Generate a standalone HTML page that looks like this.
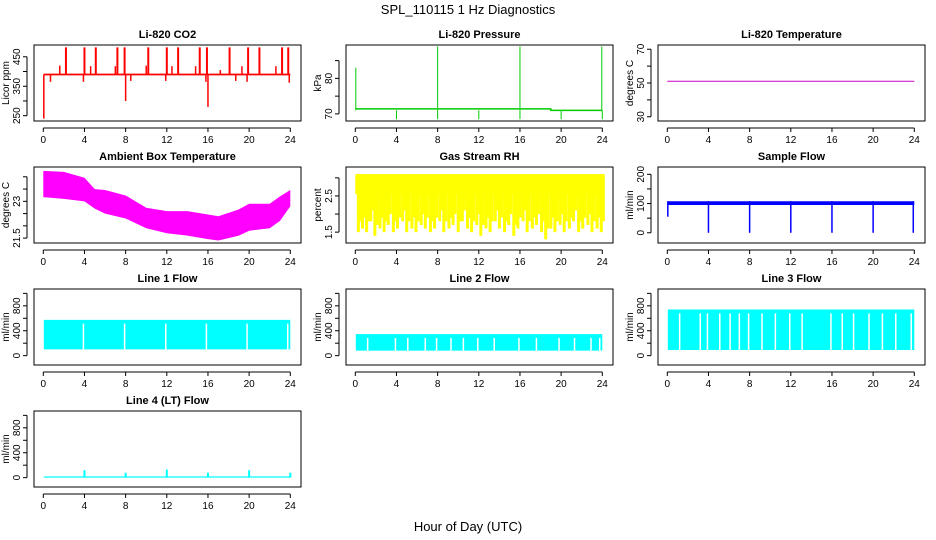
<!DOCTYPE html>
<html><head><meta charset="utf-8"><style>
html,body{margin:0;padding:0;background:#fff;}
svg{display:block;font-family:"Liberation Sans",sans-serif;}
</style></head><body>
<svg id="chart" width="936" height="540" viewBox="0 0 936 540">
<text x="468" y="14" text-anchor="middle" font-size="13">SPL_110115  1 Hz Diagnostics</text>
<text x="468" y="531" text-anchor="middle" font-size="13">Hour of Day (UTC)</text>
</svg>
<script>
// ---- data ----
const xTicks = [0,4,8,12,16,20,24];
const co2Base = 390;
const co2UpHours = [2.2,4.0,5.1,7.2,7.9,10.2,12.0,13.1,15.2,15.9,18.1,19.9,21.0,23.2,23.8];
const co2UpValues = [482,482,482,482,482,482,482,482,482,482,482,482,482,482,482];
const co2DownHours = [0.05,8.0,16.0,0.7,3.9,8.5,11.9,15.8,18.7,19.8,23.9];
const co2DownValues = [240,300,280,365,365,368,368,365,368,365,362];
const co2BumpHours = [1.6,4.6,7.0,10.0,12.5,14.8,17.2,19.3,22.6];
const co2BumpValues = [420,418,418,420,418,418,405,418,418];
const presHours = [0,19,19,24];
const presValues = [71.4,71.4,71.0,71.0];
const presUpHours = [0.05,8,16,23.95];
const presUpValues = [83,89,89,89];
const presDownHours = [4,8,12,16,20,24];
const presDownValues = [68.5,68.5,68.5,68.5,68.5,68.5];
const tempHours = [0,24];
const tempValues = [51,51];
const ambHours = [0,2,4,5,6,8,10,12,14,16,17,18,19,20,22,23,24];
const ambHigh = [24.24,24.2,23.96,23.5,23.46,23.24,22.74,22.6,22.6,22.46,22.39,22.53,22.67,22.9,22.9,23.2,23.46];
const ambLow = [23.17,23.1,23.0,22.7,22.5,22.3,21.9,21.7,21.6,21.46,21.4,21.5,21.6,21.8,21.9,22.2,22.8];
const rhHigh = 3.1;
const rhBandLow = 2.55;
const rhDipHours = [0.3,0.7,1.1,1.5,1.9,2.4,2.8,3.2,3.7,4.1,4.6,5.0,5.5,5.9,6.4,6.8,7.3,7.7,8.2,8.6,9.1,9.5,10.0,10.4,10.9,11.3,11.8,12.2,12.7,13.1,13.6,14.0,14.5,14.9,15.4,15.8,16.3,16.7,17.2,17.6,18.1,18.5,19.0,19.4,19.9,20.3,20.8,21.2,21.7,22.1,22.6,23.0,23.5,23.9];
const rhDipValues = [1.5,1.6,1.5,1.8,1.4,1.6,1.5,1.7,1.5,1.6,1.8,1.5,1.6,1.5,1.7,1.6,1.5,1.6,1.8,1.5,1.6,1.7,1.5,1.8,1.6,1.5,1.7,1.4,1.6,1.5,1.8,1.6,1.5,1.7,1.4,1.6,1.8,1.5,1.6,1.7,1.5,1.3,1.6,1.5,1.7,1.5,1.6,1.8,1.5,1.6,1.7,1.5,1.6,1.5];
const sfHigh = 108, sfLow = 95;
const sfDipHours = [0.05,4,8,12,16,20,23.9];
const sfDipValues = [55,0,0,0,0,0,0];
const l1Range = [100,575];
const l1Gaps = [3.9,7.9,11.9,15.85,19.8,23.75];
const l2Range = [80,345];
const l2Gaps = [1.2,3.9,5.1,6.8,7.9,9.3,10.5,11.9,13.5,15.9,17.6,19.8,21.3,22.9,23.75];
const l3Range = [90,740];
const l3Gaps = [1.2,3.2,3.9,5.1,6.1,7.0,7.9,9.2,10.5,11.9,13.1,15.9,17.0,18.1,19.6,20.9,22.2,23.7];
const l4Range = [0,20];
const l4SpikeHours = [4,8,12,16,20,24];
const l4SpikeValues = [120,80,130,80,120,80];

// ---- layout ----
const svg = document.getElementById('chart');
const NS = 'http://www.w3.org/2000/svg';
const colL = [34,346,658], rowT = [45,167,289,411], W = 267, H = 76;
function el(tag, attrs, parent){const e=document.createElementNS(NS,tag);for(const k in attrs)e.setAttribute(k,attrs[k]);(parent||svg).appendChild(e);return e;}

function panel(col,row,title,ylab,ymin,ymax,ticks,labels,name){
  const L=colL[col],T=rowT[row];
  const g=el('g',{});
  
  
  const xs=h=>L+9.3+h*(247/24);
  const ys=v=>T+H-(v-ymin)/(ymax-ymin)*H;
  const t=el('text',{x:L+W/2,y:T-7,'text-anchor':'middle','font-size':11,'font-weight':'bold'},g);t.textContent=title;
  
  
  const data=el('g',{},g);
  
  
  const box=el('rect',{x:L,y:T,width:W,height:H,fill:'none',stroke:'#000','stroke-width':1},g);
  
  
  const ax=el('g',{},g);
  
  
  el('line',{x1:xs(0),x2:xs(24),y1:T+H+7,y2:T+H+7,stroke:'#000'},ax);
  xTicks.forEach(h=>{el('line',{x1:xs(h),x2:xs(h),y1:T+H+7,y2:T+H+11,stroke:'#000'},ax);
    const tx=el('text',{x:xs(h),y:T+H+22,'text-anchor':'middle','font-size':10},ax);tx.textContent=h;});
  const ay=el('g',{},g);
  
  
  el('line',{x1:L-7,x2:L-7,y1:ys(ticks[0]),y2:ys(ticks[ticks.length-1]),stroke:'#000'},ay);
  ticks.forEach(v=>{el('line',{x1:L-11,x2:L-7,y1:ys(v),y2:ys(v),stroke:'#000'},ay);});
  labels.forEach(v=>{const tx=el('text',{x:0,y:0,'text-anchor':'middle','font-size':10,transform:`translate(${L-14},${ys(v)}) rotate(-90)`},ay);tx.textContent=v;});
  const yl=el('text',{x:0,y:0,'text-anchor':'middle','font-size':10,transform:`translate(${L-25},${T+H/2}) rotate(-90)`},g);yl.textContent=ylab;
  
  
  return {xs,ys,g:data};
}
function vline(p,h,v1,v2,color,w){return el('line',{x1:p.xs(h),x2:p.xs(h),y1:p.ys(v1),y2:p.ys(v2),stroke:color,'stroke-width':w||1.5},p.g);}
function band(p,hours,hi,lo,color){
  let pts=hours.map((h,i)=>p.xs(h)+','+p.ys(hi[i]));
  pts=pts.concat(hours.slice().reverse().map((h,i)=>p.xs(h)+','+p.ys(lo[hours.length-1-i])));
  return el('polygon',{points:pts.join(' '),fill:color},p.g);
}

// CO2
let p=panel(0,0,'Li-820 CO2','Licor ppm',232,490,[250,300,350,400,450],[250,350,450],'co2');
band(p,[0.05,24],[co2Base+3,co2Base+3],[co2Base-3,co2Base-3],'#f00');
co2UpHours.forEach((h,i)=>vline(p,h,co2Base,co2UpValues[i],'#f00',2));
co2DownHours.forEach((h,i)=>vline(p,h,co2Base,co2DownValues[i],'#f00',1.5));
co2BumpHours.forEach((h,i)=>vline(p,h,co2Base,co2BumpValues[i],'#f00',1.5));

// Pressure
p=panel(1,0,'Li-820 Pressure','kPa',68,89.4,[70,75,80,85],[70,80],'pressure');
el('polyline',{points:presHours.map((h,i)=>p.xs(h)+','+p.ys(presValues[i])).join(' '),fill:'none',stroke:'#0c0','stroke-width':1.5},p.g);
presUpHours.forEach((h,i)=>vline(p,h,71,presUpValues[i],'#0c0',1));
presDownHours.forEach((h,i)=>vline(p,h,71,presDownValues[i],'#0c0',1));

// Temperature
p=panel(2,0,'Li-820 Temperature','degrees C',27.5,72.5,[30,40,50,60,70],[30,50,70],'li820-temperature');
el('polyline',{points:tempHours.map((h,i)=>p.xs(h)+','+p.ys(tempValues[i])).join(' '),fill:'none',stroke:'#c0c','stroke-width':1},p.g);

// Ambient
p=panel(0,1,'Ambient Box Temperature','degrees C',21.3,24.4,[21.5,22,22.5,23,23.5,24],[21.5,23.0],'ambient-temperature');
band(p,ambHours,ambHigh,ambLow,'#f0f');

// RH
p=panel(1,1,'Gas Stream RH','percent',1.2,3.3,[1.5,2,2.5,3],[1.5,2.5],'gas-stream-rh');
band(p,[0,24],[rhHigh,rhHigh],[rhBandLow,rhBandLow],'#ff0');
rhDipHours.forEach((h,i)=>{vline(p,h,rhHigh,rhDipValues[i],'#ff0',3);vline(p,h+0.2,rhHigh,rhDipValues[i]+0.3,'#ff0',3);});

// Sample flow
p=panel(2,1,'Sample Flow','ml/min',-35,225,[0,50,100,150,200],[0,100,200],'sample-flow');
band(p,[0.05,24],[sfHigh,sfHigh],[sfLow,sfLow],'#00f');
sfDipHours.forEach((h,i)=>vline(p,h,sfHigh,sfDipValues[i],'#00f',1.5));

function flowPanel(col,row,title,name,range,gaps){
  const q=panel(col,row,title,'ml/min',-150,1070,[0,200,400,600,800,1000],[0,400,800],name);
  band(q,[0.05,24],[range[1],range[1]],[range[0],range[0]],'#0ff');
  gaps.forEach(h=>vline(q,h,range[1]-60,range[0],'#fff',1.5));
  return q;
}
flowPanel(0,2,'Line 1 Flow','line-1-flow',l1Range,l1Gaps);
flowPanel(1,2,'Line 2 Flow','line-2-flow',l2Range,l2Gaps);
flowPanel(2,2,'Line 3 Flow','line-3-flow',l3Range,l3Gaps);
p=flowPanel(0,3,'Line 4 (LT) Flow','line-4-flow',l4Range,[]);
l4SpikeHours.forEach((h,i)=>vline(p,h,0,l4SpikeValues[i],'#0ff',2));
</script>
</body></html>
